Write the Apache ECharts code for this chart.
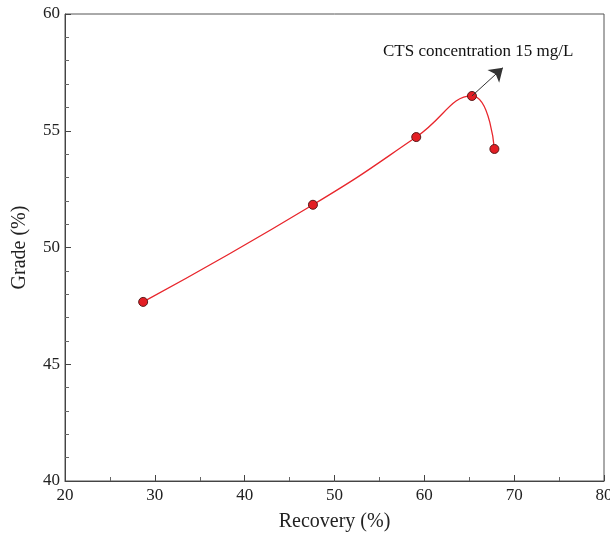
<!DOCTYPE html>
<html>
<head>
<meta charset="utf-8">
<script src="https://cdn.jsdelivr.net/npm/echarts@6/dist/echarts.min.js"></script>
<style>
  html, body { margin: 0; padding: 0; background: #fff; }
  #chart { width: 610px; height: 535px; }
</style>
</head>
<body>
<div id="chart"></div>
<script>
// Recovery vs grade for increasing CTS dosage
const recovery = [28.7, 47.6, 59.1, 65.3, 67.8];
const grade = [47.67, 51.83, 54.73, 56.49, 54.22];
const annotationText = 'CTS concentration 15 mg/L';
const arrowFrom = [65.3, 56.49];
const arrowTo = [68.75, 57.7];

const FONT = '"Liberation Serif", "Times New Roman", serif';
const chart = echarts.init(document.getElementById('chart'), null, { renderer: 'canvas' });

const axisCommon = {
  axisLine: { lineStyle: { color: '#444', width: 1 } },
  axisTick: { inside: true, length: 6, lineStyle: { color: '#444' } },
  minorTick: { show: true, length: 4, lineStyle: { color: '#666' } },
  splitLine: { show: false },
  axisLabel: { color: '#222', fontFamily: FONT, fontSize: 17 },
  nameTextStyle: { color: '#222', fontFamily: FONT, fontSize: 20 },
  nameLocation: 'middle'
};

chart.setOption({
  animation: false,
  backgroundColor: '#fff',
  grid: {
    left: 65, right: 6, top: 14, bottom: 54,
    outerBoundsMode: 'none',
    containLabel: false,
    show: true, borderColor: '#555', borderWidth: 1, backgroundColor: 'transparent'
  },
  xAxis: Object.assign({}, axisCommon, {
    type: 'value', min: 20, max: 80, interval: 10,
    name: 'Recovery (%)', nameGap: 31,
    minorTick: Object.assign({}, axisCommon.minorTick, { splitNumber: 2 }),
    axisLabel: Object.assign({}, axisCommon.axisLabel, { margin: 6 })
  }),
  yAxis: Object.assign({}, axisCommon, {
    type: 'value', min: 40, max: 60, interval: 5,
    name: 'Grade (%)', nameGap: 35,
    minorTick: Object.assign({}, axisCommon.minorTick, { splitNumber: 5 }),
    axisLabel: Object.assign({}, axisCommon.axisLabel, { margin: 5 })
  }),
  series: [{
    type: 'line',
    data: recovery.map((r, i) => [r, grade[i]]),
    smooth: 0.5,
    symbol: 'circle',
    symbolSize: 9,
    lineStyle: { color: '#e8262c', width: 1.3 },
    itemStyle: { color: '#e31e24', borderColor: '#5a1a1a', borderWidth: 1 },
    z: 3,
    markLine: {
      silent: true,
      symbol: ['none', 'arrow'],
      symbolSize: 13,
      lineStyle: { color: '#333', type: 'solid', width: 1 },
      itemStyle: { color: '#000' },
      label: { show: false },
      emphasis: { disabled: true },
      data: [[{ coord: arrowFrom }, { coord: arrowTo }]]
    }
  }],
  graphic: [{
    type: 'text',
    left: 383,
    top: 43,
    style: { text: annotationText, fill: '#111', font: '17px ' + FONT }
  }]
});
</script>
</body>
</html>
